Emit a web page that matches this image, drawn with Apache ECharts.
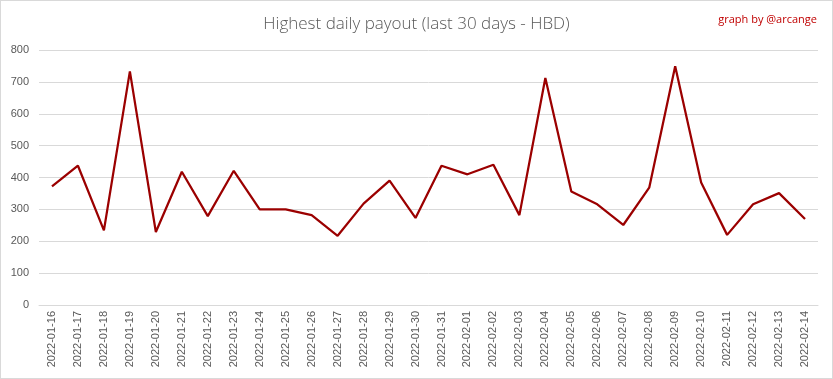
<!DOCTYPE html>
<html>
<head>
<meta charset="utf-8">
<script src="https://cdn.jsdelivr.net/npm/echarts@6/dist/echarts.min.js"></script>
<style>
html,body{margin:0;padding:0;background:#fff;}
#c{width:833px;height:379px;box-sizing:border-box;border:1px solid #d9d9d9;}
</style>
</head>
<body>
<div id="c"></div>
<script>
const categories = ["2022-01-16","2022-01-17","2022-01-18","2022-01-19","2022-01-20","2022-01-21","2022-01-22","2022-01-23","2022-01-24","2022-01-25","2022-01-26","2022-01-27","2022-01-28","2022-01-29","2022-01-30","2022-01-31","2022-02-01","2022-02-02","2022-02-03","2022-02-04","2022-02-05","2022-02-06","2022-02-07","2022-02-08","2022-02-09","2022-02-10","2022-02-11","2022-02-12","2022-02-13","2022-02-14"];
const payout = [372,437,234,733,229,418,279,421,300,300,282,217,318,390,273,437,410,440,282,712,356,316,251,368,749,384,220,316,351,270];
const yTicks = {min:0, max:800, interval:100};

const chart = echarts.init(document.getElementById('c'), null, {renderer:'canvas'});
chart.setOption({
  animation:false,
  title:[{
    text:'Highest daily payout (last 30 days - HBD)',
    left:'center', top:10,
    textStyle:{fontFamily:'Open Sans', fontWeight:300, fontSize:17, color:'#595959'}
  },{
    text:'graph by @arcange',
    right:10, top:8,
    textStyle:{fontFamily:'Open Sans', fontWeight:'normal', fontSize:11, color:'#c00000'}
  }],
  grid:{left:38, right:14, top:49, bottom:73, containLabel:false},
  xAxis:{
    type:'category', data:categories, boundaryGap:true,
    axisLine:{show:true, lineStyle:{color:'#d9d9d9'}},
    axisTick:{show:false},
    axisLabel:{rotate:90, interval:0, fontFamily:'Liberation Sans', fontSize:11, color:'#595959', margin:6}
  },
  yAxis:{
    type:'value', min:yTicks.min, max:yTicks.max, interval:yTicks.interval,
    axisLine:{show:false}, axisTick:{show:false},
    splitLine:{lineStyle:{color:'#d9d9d9'}},
    axisLabel:{fontFamily:'Liberation Sans', fontSize:11, color:'#595959', margin:10}
  },
  series:[{
    type:'line', data:payout, symbol:'none',
    lineStyle:{color:'#9b0000', width:2.25},
    itemStyle:{color:'#9b0000'}
  }]
});
</script>
</body>
</html>
